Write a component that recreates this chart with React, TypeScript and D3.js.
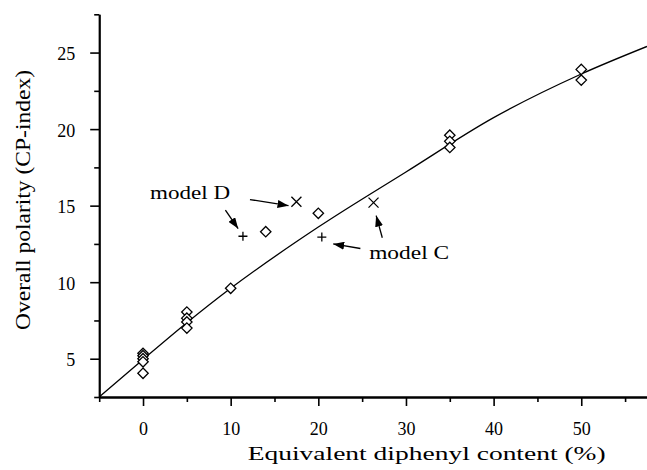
import React, { useEffect, useRef } from "react";
import * as d3 from "d3";

// measured points (diamonds)
const diamondX = [0, 0, 0, 0, 0, 5, 5, 5, 5, 10, 14, 20, 35, 35, 35, 50, 50];
const diamondY = [5.35, 5.2, 5.0, 4.8, 4.05, 8.05, 7.65, 7.4, 7.0, 9.6, 13.3, 14.5, 19.6, 19.2, 18.8, 23.9, 23.2];

// model C / model D points
const crossX = [17.5, 26.3];
const crossY = [15.25, 15.2];
const plusX = [11.4, 20.4];
const plusY = [13.0, 12.95];

// fitted curve
const fitX = [-5, 0, 5, 10, 20, 30, 40, 50, 57.5];
const fitY = [2.5, 4.95, 7.35, 9.6, 13.6, 17.2, 20.75, 23.6, 25.4];

const xMajor = [0, 10, 20, 30, 40, 50];
const xMinor = [-5, 5, 15, 25, 35, 45, 55];
const yMajor = [5, 10, 15, 20, 25];
const yMinor = [2.5, 7.5, 12.5, 17.5, 22.5, 27.5];

// annotations: label + arrows (data units)
const labels = [
  { text: "model D", x: 0.8, y: 15.45 },
  { text: "model C", x: 25.8, y: 11.5 },
];
const arrows = [
  { x1: 12.2, y1: 15.4, x2: 16.6, y2: 15.0 },
  { x1: 9.4, y1: 14.7, x2: 10.85, y2: 13.5 },
  { x1: 24.8, y1: 12.2, x2: 21.7, y2: 12.5 },
  { x1: 27.3, y1: 12.9, x2: 26.6, y2: 14.35 },
];

export default function App() {
  const ref = useRef<SVGSVGElement>(null);

  useEffect(() => {
    const svg = d3.select(ref.current);
    svg.selectAll("*").remove();

    const x = d3.scaleLinear().domain([-5, 57.5]).range([99.2, 647]);
    const y = d3.scaleLinear().domain([2.5, 27.5]).range([397, 14.3]);
    const font = "'Liberation Serif', 'Times New Roman', serif";

    svg.append("defs").append("marker")
      .attr("id", "head")
      .attr("markerUnits", "userSpaceOnUse")
      .attr("markerWidth", 12).attr("markerHeight", 8)
      .attr("refX", 11).attr("refY", 4)
      .attr("orient", "auto")
      .append("path").attr("d", "M0,0 L11,4 L0,8 Z").attr("fill", "black");

    // x axis
    const gx = svg.append("g").attr("transform", `translate(0,${y(2.5)})`);
    gx.append("g").call(d3.axisBottom(x).tickValues(xMinor).tickSize(5).tickSizeOuter(0).tickFormat(() => ""));
    gx.append("g").call(d3.axisBottom(x).tickValues(xMajor).tickSize(9).tickSizeOuter(0).tickPadding(15).tickFormat(d3.format("d")));

    // y axis
    const gy = svg.append("g").attr("transform", `translate(${x(-5)},0)`);
    gy.append("g").call(d3.axisLeft(y).tickValues(yMinor).tickSize(5).tickSizeOuter(0).tickFormat(() => ""));
    gy.append("g").call(d3.axisLeft(y).tickValues(yMajor).tickSize(9).tickSizeOuter(0).tickPadding(15).tickFormat(d3.format("d")));

    svg.selectAll("g").attr("font-family", font);
    svg.selectAll(".domain").attr("stroke-width", 1.8);
    svg.selectAll(".tick line").attr("stroke-width", 1.6);
    svg.selectAll(".tick text")
      .style("font-family", font).attr("font-size", 18).attr("fill", "black");
    gy.selectAll(".tick text").attr("dy", "0.4em");
    gx.selectAll(".tick text").attr("dy", "0.78em");

    // axis titles
    svg.append("text")
      .attr("x", 426.7).attr("y", 460)
      .attr("text-anchor", "middle")
      .style("font-family", font).attr("font-size", 19)
      .attr("textLength", 358).attr("lengthAdjust", "spacingAndGlyphs")
      .text("Equivalent diphenyl content (%)");
    svg.append("text")
      .attr("transform", "translate(30,200) rotate(-90)")
      .attr("text-anchor", "middle")
      .style("font-family", font).attr("font-size", 20)
      .attr("textLength", 260).attr("lengthAdjust", "spacingAndGlyphs")
      .text("Overall polarity (CP-index)");

    // fitted curve
    const line = d3.line<number>().x(d => x(d)).y((d, i) => y(fitY[i])).curve(d3.curveMonotoneX);
    svg.append("path").attr("d", line(fitX)).attr("fill", "none").attr("stroke", "black").attr("stroke-width", 1.3);

    // diamonds
    const r = 5.2;
    svg.selectAll("path.dia").data(diamondX).join("path").attr("class", "dia")
      .attr("d", (d, i) => {
        const cx = x(d), cy = y(diamondY[i]);
        return `M${cx},${cy - r}L${cx + r},${cy}L${cx},${cy + r}L${cx - r},${cy}Z`;
      })
      .attr("fill", "white").attr("stroke", "black").attr("stroke-width", 1.3);

    // crosses
    const c = 5;
    svg.selectAll("path.cross").data(crossX).join("path").attr("class", "cross")
      .attr("d", (d, i) => {
        const cx = x(d), cy = y(crossY[i]);
        return `M${cx - c},${cy - c}L${cx + c},${cy + c}M${cx - c},${cy + c}L${cx + c},${cy - c}`;
      })
      .attr("stroke", "black").attr("stroke-width", 1.3);

    // pluses
    const p = 4.5;
    svg.selectAll("path.plus").data(plusX).join("path").attr("class", "plus")
      .attr("d", (d, i) => {
        const cx = x(d), cy = y(plusY[i]);
        return `M${cx - p},${cy}L${cx + p},${cy}M${cx},${cy - p}L${cx},${cy + p}`;
      })
      .attr("stroke", "black").attr("stroke-width", 1.3);

    // annotations
    svg.selectAll("line.arrow").data(arrows).join("line").attr("class", "arrow")
      .attr("x1", d => x(d.x1)).attr("y1", d => y(d.y1))
      .attr("x2", d => x(d.x2)).attr("y2", d => y(d.y2))
      .attr("stroke", "black").attr("stroke-width", 1.3)
      .attr("marker-end", "url(#head)");

    svg.selectAll("text.lab").data(labels).join("text").attr("class", "lab")
      .attr("x", d => x(d.x)).attr("y", d => y(d.y))
      .style("font-family", font).attr("font-size", 19)
      .attr("textLength", 80).attr("lengthAdjust", "spacingAndGlyphs")
      .text(d => d.text);
  }, []);

  return (
    <svg ref={ref} width={647} height={470}
      style={{ position: "absolute", left: 0, top: 0, background: "white" }} />
  );
}
